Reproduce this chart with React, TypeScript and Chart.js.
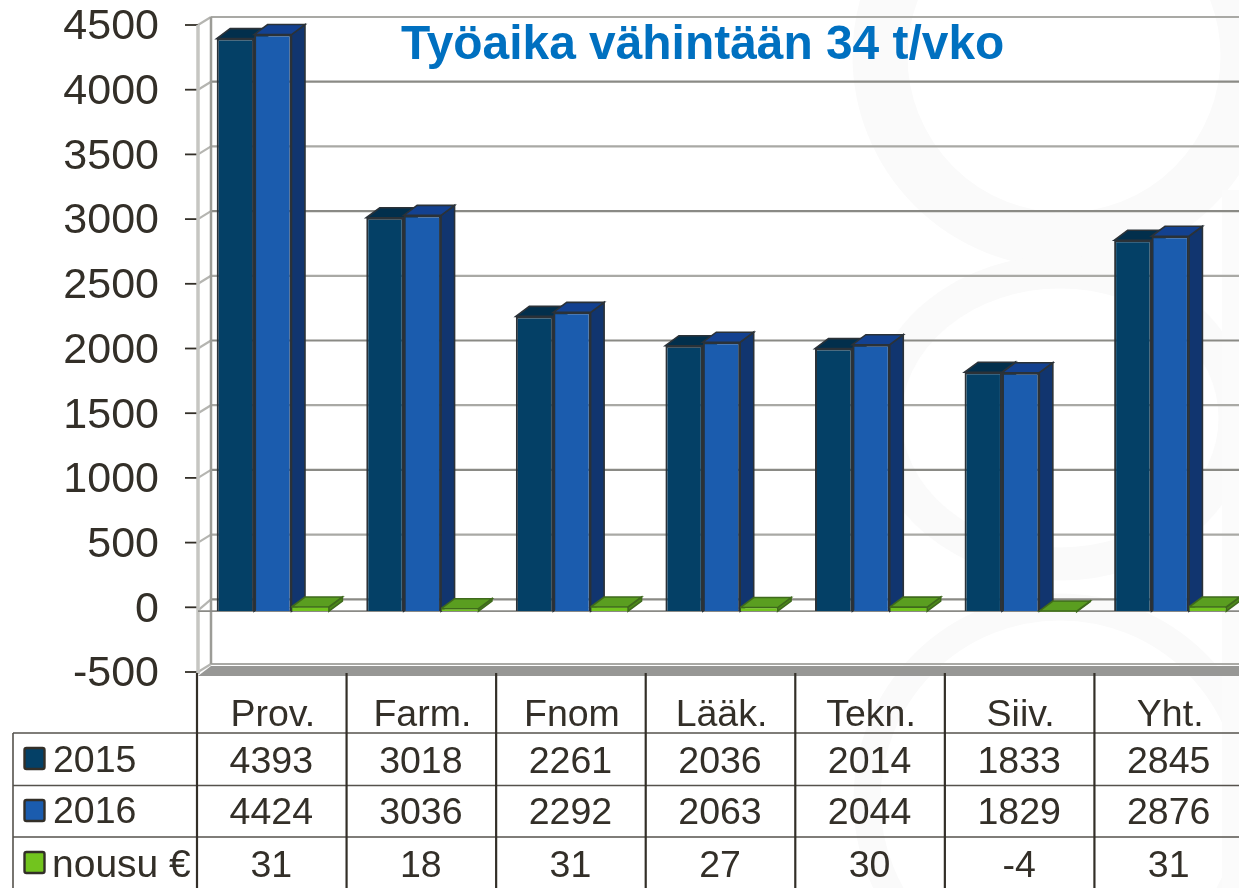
import React, { useEffect, useRef } from "react";
import { Chart, registerables } from "chart.js";

Chart.register(...registerables);

const categories = ["Prov.", "Farm.", "Fnom", "Lääk.", "Tekn.", "Siiv.", "Yht."];
const values2015 = [4393, 3018, 2261, 2036, 2014, 1833, 2845];
const values2016 = [4424, 3036, 2292, 2063, 2044, 1829, 2876];
const valuesRise = [31, 18, 31, 27, 30, -4, 31];
const seriesNames = ["2015", "2016", "nousu €"];
const titleText = "Työaika vähintään 34 t/vko";

const FONT = '"Liberation Sans", Arial, sans-serif';
const INK = "#332f28";
const FRONT = ["#044066", "#1b5cae", "#72c41e"];
const TOP = ["#022f4c", "#134190", "#5a9e20"];
const SIDE = ["#03314f", "#11356f", "#4d8a1a"];
const EDGE = ["#2b3238", "#2b3238", "#3f6a1c"];
const DX = 13.5;
const DY = 10;
const LABEL_SHIFT = 2.5;

const scenePlugin = {
  id: "scene",
  beforeDraw(chart: any) {
    const c = chart.ctx;
    c.save();
    c.fillStyle = "#ffffff";
    c.fillRect(0, 0, chart.width, chart.height);
    c.strokeStyle = "#fafafa";
    c.lineWidth = 55;
    c.beginPath();
    c.arc(1064, 56, 184, 0, Math.PI * 2);
    c.stroke();
    c.lineWidth = 33;
    c.beginPath();
    c.ellipse(1060, 418, 175, 146, 0, 0, Math.PI * 2);
    c.stroke();
    c.lineWidth = 27;
    c.beginPath();
    c.arc(1060, 800, 193, 0, Math.PI * 2);
    c.stroke();
    c.fillStyle = "#fbfbfb";
    c.fillRect(1222, 190, 20, 700);
    c.restore();
  },
  beforeDatasetsDraw(chart: any) {
    const c = chart.ctx;
    const ya = chart.scales.y;
    const a = chart.chartArea;
    const xF = a.left;
    const xB = a.left + 13;
    const right = chart.width;
    const front = (v: number) => ya.getPixelForValue(v) - LABEL_SHIFT;
    c.save();
    // tick marks, back wall grid lines, side wall diagonals
    ya.ticks.forEach((t: any) => {
      const y = front(t.value);
      const back = y - 8;
      c.lineWidth = 1.8;
      c.strokeStyle = INK;
      c.beginPath();
      c.moveTo(xF - 13, y);
      c.lineTo(xF, y);
      c.stroke();
      c.lineWidth = 2.2;
      c.strokeStyle = t.value % 1000 === 0 ? "#8a8a85" : "#a9a9a5";
      c.beginPath();
      c.moveTo(xB, back);
      c.lineTo(right, back);
      c.stroke();
      c.strokeStyle = "#b5b5b1";
      c.beginPath();
      c.moveTo(xF, y + (t.value === 0 ? 3 : 0));
      c.lineTo(xB, back);
      c.stroke();
    });
    c.strokeStyle = "#c6c6c2";
    c.lineWidth = 3.5;
    c.beginPath();
    c.moveTo(xF, front(4500));
    c.lineTo(xF, front(-500) + 2);
    c.stroke();
    c.strokeStyle = "#9c9c97";
    c.lineWidth = 2.5;
    c.beginPath();
    c.moveTo(xB, front(4500) - 8);
    c.lineTo(xB, front(-500) - 8);
    c.stroke();
    // floor
    const fy = front(-500);
    c.fillStyle = "#979795";
    c.beginPath();
    c.moveTo(xF, fy + 4);
    c.lineTo(xB, fy - 6);
    c.lineTo(right, fy - 6);
    c.lineTo(right, fy + 4);
    c.closePath();
    c.fill();
    // zero plane line
    const zero = chart.scales.yBars.getPixelForValue(0);
    c.strokeStyle = "#8a8a86";
    c.lineWidth = 1.8;
    c.beginPath();
    c.moveTo(xF, zero);
    c.lineTo(right, zero);
    c.stroke();
    // 3D faces of the bars
    c.lineWidth = 1.6;
    chart.data.datasets.forEach((_: any, d: number) => {
      c.strokeStyle = EDGE[d];
      chart.getDatasetMeta(d).data.forEach((bar: any) => {
        const p = bar.getProps(["x", "y", "base", "width"], true);
        const l = p.x - p.width / 2;
        const r = p.x + p.width / 2;
        const top = Math.min(p.y, p.base);
        const bottom = Math.max(p.y, p.base);
        c.fillStyle = SIDE[d];
        c.beginPath();
        c.moveTo(r, top);
        c.lineTo(r + DX, top - DY);
        c.lineTo(r + DX, bottom - DY);
        c.lineTo(r, bottom);
        c.closePath();
        c.fill();
        c.stroke();
        c.fillStyle = TOP[d];
        c.beginPath();
        c.moveTo(l, top);
        c.lineTo(l + DX, top - DY);
        c.lineTo(r + DX, top - DY);
        c.lineTo(r, top);
        c.closePath();
        c.fill();
        c.stroke();
      });
    });
    c.restore();
  },
  afterDraw(chart: any) {
    const c = chart.ctx;
    const xa = chart.scales.x;
    const step = xa.getPixelForTick(1) - xa.getPixelForTick(0);
    const left = xa.getPixelForTick(0) - step / 2 - 1;
    const rows = [values2015, values2016, valuesRise];
    const rowLines = [733, 785.5, 837];
    const rowText = [762.5, 813.5, 867];
    const swatch = [748, 800, 852];
    c.save();
    // title
    c.font = `bold 47.9px ${FONT}`;
    c.fillStyle = "#0070c0";
    c.textAlign = "left";
    c.textBaseline = "middle";
    c.fillText(titleText, 401, 46);
    // table rules
    c.strokeStyle = "#55524c";
    c.lineWidth = 1.6;
    rowLines.forEach((y) => {
      c.beginPath();
      c.moveTo(13, y);
      c.lineTo(chart.width, y);
      c.stroke();
    });
    c.beginPath();
    c.moveTo(13, 733);
    c.lineTo(13, 888);
    c.stroke();
    c.strokeStyle = INK;
    c.lineWidth = 2.2;
    categories.forEach((_, i) => {
      const x = left + step * i;
      c.beginPath();
      c.moveTo(x, 673);
      c.lineTo(x, 888);
      c.stroke();
    });
    // table cells
    c.font = `37.5px ${FONT}`;
    c.fillStyle = INK;
    c.textAlign = "center";
    rows.forEach((row, r) => {
      row.forEach((v, i) => {
        c.fillText(String(v), xa.getPixelForTick(i) - 1.5, rowText[r]);
      });
    });
    // legend column
    c.textAlign = "left";
    seriesNames.forEach((name, r) => {
      c.fillStyle = FRONT[r];
      c.strokeStyle = INK;
      c.lineWidth = 2.4;
      c.beginPath();
      c.roundRect(24.5, swatch[r], 20, 21, 2);
      c.fill();
      c.stroke();
      c.fillStyle = INK;
      c.font = r === 2 ? `39px ${FONT}` : `37.5px ${FONT}`;
      c.fillText(name, r === 2 ? 52 : 53, rowText[r] - 1);
    });
    c.restore();
  },
};

export default function App() {
  const ref = useRef<HTMLCanvasElement>(null);
  useEffect(() => {
    const chart = new Chart(ref.current!, {
      type: "bar",
      data: {
        labels: categories,
        datasets: [values2015, values2016, valuesRise].map((data, i) => ({
          label: seriesNames[i],
          data,
          yAxisID: "yBars",
          backgroundColor: FRONT[i],
          borderColor: EDGE[i],
          borderWidth: i === 2 ? 0.8 : 2,
          categoryPercentage: 0.75,
          barPercentage: 1,
        })),
      },
      plugins: [scenePlugin],
      options: {
        responsive: false,
        animation: false,
        events: [],
        layout: { padding: { top: 27.5, right: 15, left: 0, bottom: 0 } },
        plugins: { legend: { display: false }, title: { display: false }, tooltip: { enabled: false } },
        scales: {
          x: {
            grid: { display: false, drawTicks: false },
            border: { display: false },
            afterFit: (s: any) => { s.height = 213.5; },
            ticks: {
              autoSkip: false,
              maxRotation: 0,
              padding: 18.5,
              color: INK,
              font: { family: FONT, size: 37.5, lineHeight: 1.2 },
            },
          },
          y: {
            min: -500,
            max: 4500,
            position: "left",
            afterFit: (s: any) => {
              s.width = 198;
              s.paddingTop = 0;
              s.paddingBottom = 0;
            },
            border: { display: false },
            grid: { display: true, drawOnChartArea: false, drawTicks: false },
            ticks: {
              stepSize: 500,
              padding: 39,
              color: INK,
              font: { family: FONT, size: 43 },
              callback: (v: any) => String(v),
            },
          },
          yBars: {
            display: false,
            min: -487,
            max: 4478,
          },
        },
      },
    } as any);
    return () => chart.destroy();
  }, []);
  return (
    <div style={{ position: "absolute", left: 0, top: 0, width: 1239, height: 888, overflow: "hidden", background: "#fff" }}>
      <canvas ref={ref} width={1260} height={888} style={{ display: "block" }} />
    </div>
  );
}
